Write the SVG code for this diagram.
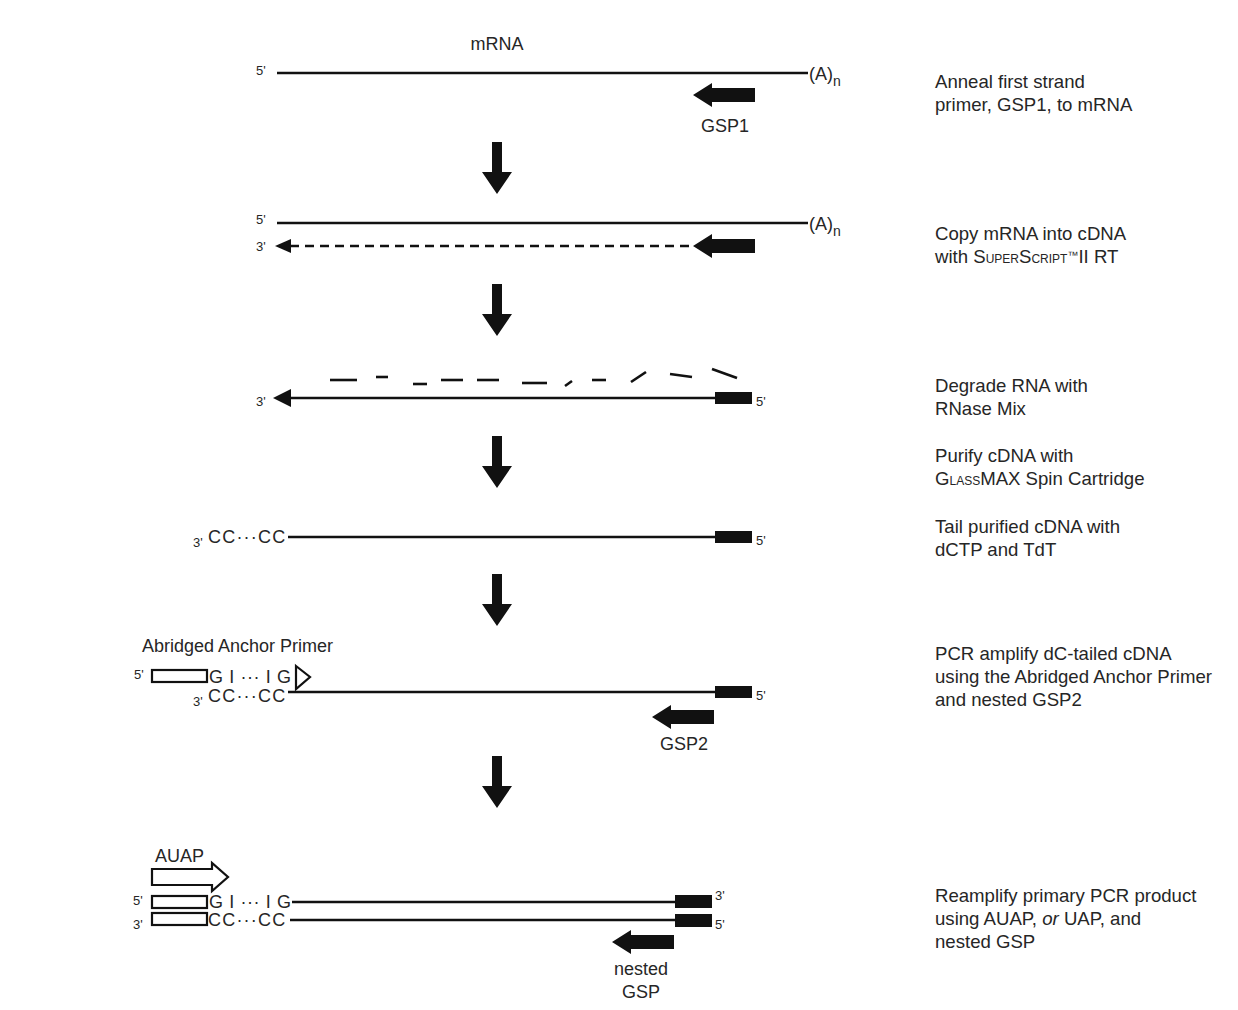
<svg xmlns="http://www.w3.org/2000/svg" width="1238" height="1010" viewBox="0 0 1238 1010">
<style>
text{font-family:"Liberation Sans",Arial,sans-serif;fill:#262626}
.t{font-size:18px}
.r{font-size:18.6px}
.s{font-size:13px}
.cc{letter-spacing:1.2px}
.ln{stroke:#111;stroke-width:2.5;fill:none}
.blk{fill:#111}
.open{fill:#fff;stroke:#111;stroke-width:2.2}
.frag{stroke:#111;stroke-width:2.6;fill:none}
</style>
<defs>
<path id="gsp" d="M0,0 L19,-12 L19,-7 L62,-7 L62,7 L19,7 L19,12 Z"/>
<path id="down" d="M-5,0 L5,0 L5,30 L15,30 L0,52 L-15,30 L-5,30 Z"/>
</defs>
<rect width="1238" height="1010" fill="#fff"/>

<g id="step1">
<text class="t" x="497" y="50" text-anchor="middle">mRNA</text>
<text class="s" x="256" y="75">5'</text>
<line class="ln" x1="277" y1="73" x2="808" y2="73"/>
<text class="t" x="809" y="80">(A)<tspan font-size="14" dy="6">n</tspan></text>
<use href="#gsp" x="693" y="95" class="blk"/>
<text class="t" x="725" y="132" text-anchor="middle">GSP1</text>
<text class="r" x="935" y="88">Anneal first strand</text>
<text class="r" x="935" y="111">primer, GSP1,  to mRNA</text>
</g>

<g id="step2">
<text class="s" x="256" y="224">5'</text>
<line class="ln" x1="277" y1="223" x2="808" y2="223"/>
<text class="t" x="809" y="230">(A)<tspan font-size="14" dy="6">n</tspan></text>
<text class="s" x="256" y="251">3'</text>
<line class="ln" x1="290" y1="246" x2="693" y2="246" stroke-dasharray="9,6"/>
<path class="blk" d="M275,246 L291,239 L291,253 Z"/>
<use href="#gsp" x="693" y="246" class="blk"/>
<text class="r" x="935" y="240">Copy mRNA into cDNA</text>
<text class="r" x="935" y="263">with S<tspan font-size="12">UPER</tspan>S<tspan font-size="12">CRIPT</tspan><tspan font-size="11" dy="-4">™</tspan><tspan dy="4">II RT</tspan></text>
</g>

<g id="step3">
<g class="frag">
<line x1="330" y1="380" x2="357" y2="380"/>
<line x1="376" y1="377" x2="388" y2="377"/>
<line x1="413" y1="384" x2="427" y2="384"/>
<line x1="441" y1="380" x2="463" y2="380"/>
<line x1="477" y1="380" x2="499" y2="380"/>
<line x1="522" y1="383" x2="547" y2="383"/>
<line x1="565" y1="386" x2="572" y2="381"/>
<line x1="592" y1="380" x2="606" y2="380"/>
<line x1="631" y1="382" x2="646" y2="372"/>
<line x1="670" y1="374" x2="692" y2="377"/>
<line x1="712" y1="369" x2="737" y2="378"/>
</g>
<text class="s" x="256" y="406">3'</text>
<line class="ln" x1="285" y1="398" x2="716" y2="398"/>
<path class="blk" d="M273,398 L291,389 L291,407 Z"/>
<rect class="blk" x="715" y="392" width="37" height="12"/>
<text class="s" x="756" y="406">5'</text>
<text class="r" x="935" y="392">Degrade RNA with</text>
<text class="r" x="935" y="415">RNase Mix</text>
<text class="r" x="935" y="462">Purify cDNA with</text>
<text class="r" x="935" y="485">G<tspan font-size="12">LASS</tspan>MAX Spin Cartridge</text>
</g>

<g id="step4">
<text class="s" x="193" y="547">3'</text>
<text class="t cc" x="208" y="543">CC···CC</text>
<line class="ln" x1="288" y1="537" x2="716" y2="537"/>
<rect class="blk" x="715" y="531" width="37" height="12"/>
<text class="s" x="756" y="545">5'</text>
<text class="r" x="935" y="533">Tail purified cDNA with</text>
<text class="r" x="935" y="556">dCTP and TdT</text>
</g>

<g id="step5">
<text class="t" x="142" y="652">Abridged Anchor Primer</text>
<text class="s" x="134" y="679">5'</text>
<rect class="open" x="152" y="670" width="55" height="12"/>
<text class="t" x="209" y="683" letter-spacing="0.6">G I ··· I G</text>
<path class="open" d="M296,666 L310,677 L296,689 Z" stroke-width="2.5"/>
<text class="s" x="193" y="706">3'</text>
<text class="t cc" x="208" y="702">CC···CC</text>
<line class="ln" x1="288" y1="692" x2="716" y2="692"/>
<rect class="blk" x="715" y="686" width="37" height="12"/>
<text class="s" x="756" y="700">5'</text>
<use href="#gsp" x="652" y="717" class="blk"/>
<text class="t" x="684" y="750" text-anchor="middle">GSP2</text>
<text class="r" x="935" y="660">PCR amplify dC-tailed cDNA</text>
<text class="r" x="935" y="683">using the Abridged Anchor Primer</text>
<text class="r" x="935" y="706">and nested GSP2</text>
</g>

<g id="step6">
<text class="t" x="155" y="862">AUAP</text>
<path class="open" d="M152,869 L212,869 L212,863 L228,877 L212,891 L212,885 L152,885 Z"/>
<text class="s" x="133" y="905">5'</text>
<rect class="open" x="152" y="896" width="55" height="12"/>
<text class="t" x="209" y="908" letter-spacing="0.6">G I ··· I G</text>
<line class="ln" x1="292" y1="902" x2="676" y2="902"/>
<rect class="blk" x="675" y="895" width="37" height="13"/>
<text class="s" x="715" y="900">3'</text>
<text class="s" x="133" y="929">3'</text>
<rect class="open" x="152" y="913" width="55" height="12"/>
<text class="t cc" x="208" y="926">CC···CC</text>
<line class="ln" x1="290" y1="920" x2="676" y2="920" stroke-width="3"/>
<rect class="blk" x="675" y="914" width="37" height="13"/>
<text class="s" x="715" y="929">5'</text>
<use href="#gsp" x="612" y="942" class="blk"/>
<text class="t" x="641" y="975" text-anchor="middle">nested</text>
<text class="t" x="641" y="998" text-anchor="middle">GSP</text>
<text class="r" x="935" y="902">Reamplify primary PCR product</text>
<text class="r" x="935" y="925">using AUAP, <tspan font-style="italic">or</tspan> UAP, and</text>
<text class="r" x="935" y="948">nested  GSP</text>
</g>

<g id="connectors" class="blk">
<use href="#down" x="497" y="142"/>
<use href="#down" x="497" y="284"/>
<use href="#down" x="497" y="436"/>
<use href="#down" x="497" y="574"/>
<use href="#down" x="497" y="756"/>
</g>
</svg>
